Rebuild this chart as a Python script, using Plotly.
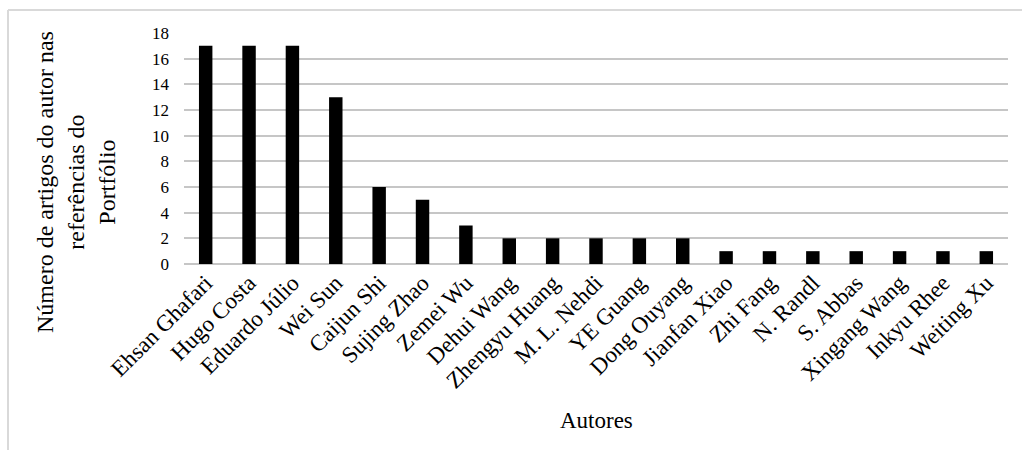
import plotly.graph_objects as go

# Authors and number of their papers cited in the portfolio references
autores = [
    "Ehsan Ghafari", "Hugo Costa", "Eduardo Júlio", "Wei Sun", "Caijun Shi",
    "Sujing Zhao", "Zemei Wu", "Dehui Wang", "Zhengyu Huang", "M. L. Nehdi",
    "YE Guang", "Dong Ouyang", "Jianfan Xiao", "Zhi Fang", "N. Randl",
    "S. Abbas", "Xingang Wang", "Inkyu Rhee", "Weiting Xu",
]
artigos = [17, 17, 17, 13, 6, 5, 3, 2, 2, 2, 2, 2, 1, 1, 1, 1, 1, 1, 1]

y_ticks = list(range(0, 19, 2))

SERIF = "Liberation Serif"

W, H = 1023, 450
L, R, T, B = 184, 15, 33, 186
pw, ph = W - L - R, H - T - B


def px_x(x):
    return (x - L) / pw


def px_y(y):
    return (H - B - y) / ph


fig = go.Figure(
    go.Bar(
        x=autores,
        y=artigos,
        marker=dict(color="#000000", line=dict(width=0)),
    )
)

fig.update_layout(
    width=W,
    height=H,
    margin=dict(l=L, r=R, t=T, b=B),
    paper_bgcolor="white",
    plot_bgcolor="white",
    bargap=0.69,
    showlegend=False,
    font=dict(family=SERIF, color="#000000"),
    xaxis=dict(
        tickangle=-45,
        tickfont=dict(size=23, family=SERIF, color="#000000"),
        showgrid=False,
        showline=False,
        ticks="",
    ),
    yaxis=dict(
        range=[0, 18],
        tickvals=y_ticks,
        tickfont=dict(size=17, family=SERIF, color="#000000"),
        showgrid=True,
        gridcolor="#c6c6c6",
        gridwidth=2,
        zeroline=True,
        zerolinecolor="#c6c6c6",
        zerolinewidth=2,
        showline=False,
        ticks="",
        ticklabelstandoff=14,
    ),
    annotations=[
        dict(
            text="Número de artigos do autor nas<br>referências do<br>Portfólio",
            xref="paper", yref="paper",
            x=px_x(76), y=px_y(182),
            xanchor="center", yanchor="middle",
            textangle=-90,
            showarrow=False,
            font=dict(size=24, family=SERIF, color="#000000"),
        ),
        dict(
            text="Autores",
            xref="paper", yref="paper",
            x=px_x(596), y=px_y(420),
            xanchor="center", yanchor="middle",
            showarrow=False,
            font=dict(size=23, family=SERIF, color="#000000"),
        ),
    ],
    shapes=[
        # chart frame (top and left edges)
        dict(type="line", xref="paper", yref="paper",
             x0=px_x(8), x1=px_x(1022), y0=px_y(10), y1=px_y(10),
             line=dict(color="#d9d9d9", width=2)),
        dict(type="line", xref="paper", yref="paper",
             x0=px_x(8), x1=px_x(8), y0=px_y(10), y1=px_y(452),
             line=dict(color="#d9d9d9", width=2)),
    ],
)

fig.write_html("out.html")
